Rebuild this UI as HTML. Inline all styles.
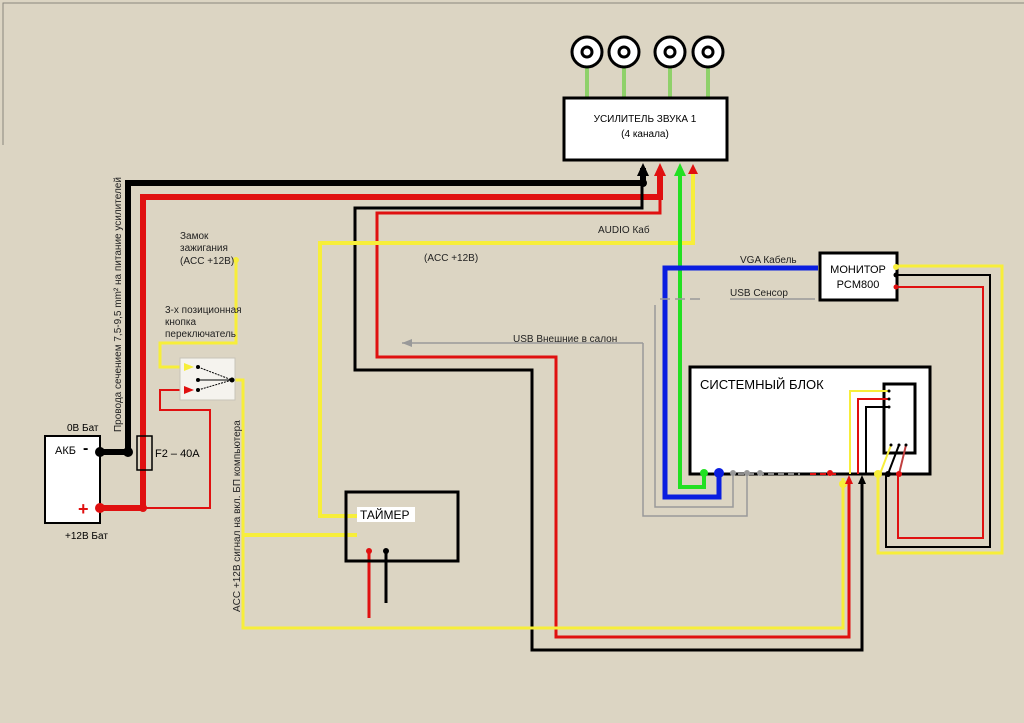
<!DOCTYPE html>
<html><head><meta charset="utf-8"><style>
body{margin:0;background:#dcd5c3;}
svg{display:block;font-family:"Liberation Sans","Noto Sans CJK SC",sans-serif;}
</style></head><body>
<svg width="1024" height="723" viewBox="0 0 1024 723" xmlns="http://www.w3.org/2000/svg">
<rect width="1024" height="723" fill="#dcd5c3"/>
<polyline points="3,145 3,3 1024,3" fill="none" stroke="#8a877e" stroke-width="1"/>
<g fill="none" stroke-linejoin="miter">
<!-- speakers green -->
<g stroke="#8fd16a" stroke-width="4"><line x1="587" y1="66" x2="587" y2="97"/><line x1="624" y1="66" x2="624" y2="97"/><line x1="670" y1="66" x2="670" y2="97"/><line x1="708" y1="66" x2="708" y2="97"/></g>
<!-- thick black/red power -->
<polyline points="128,452 128,183 643,183 643,168" stroke="#000" stroke-width="6"/>
<polyline points="143,508 143,197 660,197 660,170" stroke="#e01010" stroke-width="6"/>
<!-- black 2 -->
<polyline points="642,183 642,208 355,208 355,370 532,370 532,650 862,650 862,482" stroke="#000" stroke-width="3"/>
<polyline points="660,197 660,213 377,213 377,357 556,357 556,637 849,637 849,482" stroke="#e01010" stroke-width="3"/>
<!-- yellow ACC -->
<polyline points="693,170 693,243 320,243 320,516 358,516" stroke="#f7ee3a" stroke-width="4"/>
<polyline points="232,380 243,380 243,628 843,628 843,478" stroke="#f7ee3a" stroke-width="3"/>
<polyline points="243,535 357,535" stroke="#f7ee3a" stroke-width="4"/>
<polyline points="236,260 236,343 160,343 160,367 186,367" stroke="#f7ee3a" stroke-width="3"/>
<!-- red switch -->
<polyline points="186,390 160,390 160,410 210,410 210,508 143,508" stroke="#e01010" stroke-width="2"/>
<polyline points="100,508 143,508" stroke="#e01010" stroke-width="6"/>
<polyline points="100,452 128,452" stroke="#000" stroke-width="6"/>
<!-- green audio -->
<polyline points="680,170 680,487 704,487 704,472" stroke="#22e022" stroke-width="4"/>
<!-- blue VGA -->
<polyline points="818,268 665,268 665,497 719,497 719,472" stroke="#0a1ee0" stroke-width="5"/>
<!-- grey usb -->
<polyline points="815,299 730,299" stroke="#999" stroke-width="1.5"/>
<polyline points="700,299 655,299" stroke="#999" stroke-width="1.5" stroke-dasharray="10,5"/>
<polyline points="655,305 655,507 733,507 733,472" stroke="#999" stroke-width="1.5"/>
<polyline points="643,343 643,516 747,516 747,472" stroke="#999" stroke-width="1.5"/>
<polyline points="643,343 402,343" stroke="#999" stroke-width="1.5"/>
<polyline points="894,266 1002,266 1002,553 878,553 878,474" stroke="#f7ee3a" stroke-width="3"/>
<polyline points="894,275 990,275 990,547 886,547 886,474" stroke="#000" stroke-width="2"/>
<polyline points="894,287 983,287 983,538 898,538 898,474" stroke="#e01010" stroke-width="2"/>
<!-- timer pins -->
<line x1="369" y1="551" x2="369" y2="618" stroke="#e01010" stroke-width="3"/>
<line x1="386" y1="551" x2="386" y2="603" stroke="#000" stroke-width="3"/>
</g>
<polygon points="402,343 412,339 412,347" fill="#999"/>
<!-- boxes -->
<rect x="564" y="98" width="163" height="62" fill="#fff" stroke="#000" stroke-width="3"/>
<text x="645" y="122" font-size="10" text-anchor="middle">УСИЛИТЕЛЬ ЗВУКА 1</text>
<text x="645" y="137" font-size="10" text-anchor="middle">(4 канала)</text>
<g fill="#fff" stroke="#000" stroke-width="3">
<circle cx="587" cy="52" r="15"/><circle cx="624" cy="52" r="15"/><circle cx="670" cy="52" r="15"/><circle cx="708" cy="52" r="15"/>
<circle cx="587" cy="52" r="5"/><circle cx="624" cy="52" r="5"/><circle cx="670" cy="52" r="5"/><circle cx="708" cy="52" r="5"/>
</g>
<!-- amp arrows -->
<polygon points="643,163 637,176 649,176" fill="#000"/>
<polygon points="660,163 654,176 666,176" fill="#e01010"/>
<polygon points="680,163 674,176 686,176" fill="#22e022"/>
<polygon points="693,164 688,174 698,174" fill="#e01010"/>
<circle cx="643" cy="183" r="4" fill="#000"/>
<rect x="690" y="367" width="240" height="107" fill="#fff" stroke="#000" stroke-width="3"/>
<text x="700" y="389" font-size="13">СИСТЕМНЫЙ БЛОК</text>
<rect x="884" y="384" width="31" height="69" fill="#fff" stroke="#000" stroke-width="3"/>
<g fill="none" stroke-width="2">
<polyline points="889,391 850,391 850,474" stroke="#f7ee3a"/>
<polyline points="889,399 858,399 858,474" stroke="#e01010"/>
<polyline points="889,407 866,407 866,474" stroke="#000"/>
<line x1="891" y1="445" x2="880" y2="474" stroke="#f7ee3a"/>
<line x1="899" y1="445" x2="888" y2="474" stroke="#000"/>
<line x1="906" y1="445" x2="899" y2="474" stroke="#c04040"/>
</g>
<g fill="#000"><circle cx="889" cy="391" r="1.5"/><circle cx="889" cy="399" r="1.5"/><circle cx="889" cy="407" r="1.5"/><circle cx="891" cy="445" r="1.5"/><circle cx="899" cy="445" r="1.5"/><circle cx="906" cy="445" r="1.5"/></g>
<g fill="none" stroke-width="2" stroke-dasharray="6,4"><line x1="738" y1="474" x2="800" y2="474" stroke="#888"/><line x1="810" y1="474" x2="840" y2="474" stroke="#e01010"/></g>
<circle cx="704" cy="473" r="4" fill="#22e022"/><circle cx="719" cy="473" r="5" fill="#0a1ee0"/>
<circle cx="733" cy="473" r="3" fill="#999"/><circle cx="747" cy="473" r="3" fill="#999"/><circle cx="760" cy="473" r="3" fill="#999"/>
<circle cx="830" cy="473" r="3" fill="#e01010"/>
<circle cx="843" cy="484" r="4" fill="#f7ee3a"/><circle cx="878" cy="474" r="4" fill="#f7ee3a"/><circle cx="888" cy="474" r="3" fill="#000"/><circle cx="899" cy="474" r="3" fill="#e01010"/>
<polygon points="849,475 845,484 853,484" fill="#e01010"/><polygon points="862,475 858,484 866,484" fill="#000"/>
<rect x="820" y="253" width="77" height="47" fill="#fff" stroke="#000" stroke-width="3"/>
<text x="858" y="273" font-size="11" text-anchor="middle">МОНИТОР</text>
<text x="858" y="288" font-size="11" text-anchor="middle">PCM800</text>
<circle cx="896" cy="267" r="3" fill="#f7ee3a"/><circle cx="896" cy="275" r="2.5" fill="#000"/><circle cx="896" cy="287" r="2.5" fill="#e01010"/>
<rect x="346" y="492" width="112" height="69" fill="none" stroke="#000" stroke-width="3"/>
<rect x="357" y="507" width="58" height="15" fill="#fff"/>
<text x="360" y="519" font-size="12">ТАЙМЕР</text>
<circle cx="369" cy="551" r="3" fill="#e01010"/><circle cx="386" cy="551" r="3" fill="#000"/>
<!-- battery -->
<rect x="45" y="436" width="55" height="87" fill="#fff" stroke="#000" stroke-width="2"/>
<text x="55" y="454" font-size="11">АКБ</text>
<text x="83" y="453" font-size="16" font-weight="bold">-</text>
<text x="78" y="515" font-size="18" font-weight="bold" fill="#e01010">+</text>
<text x="67" y="431" font-size="10">0В Бат</text>
<text x="65" y="539" font-size="10">+12В Бат</text>
<circle cx="100" cy="452" r="5" fill="#000"/><circle cx="128" cy="452" r="5" fill="#000"/>
<circle cx="100" cy="508" r="5" fill="#e01010"/><circle cx="143" cy="508" r="4" fill="#e01010"/>
<rect x="137" y="436" width="15" height="34" fill="none" stroke="#000" stroke-width="1.5"/>
<text x="155" y="457" font-size="11">F2 – 40A</text>
<!-- switch -->
<rect x="180" y="358" width="55" height="42" fill="#f5f3ee" stroke="#c8c4b8"/>
<g stroke="#000" stroke-width="1"><line x1="198" y1="367" x2="232" y2="380" stroke-dasharray="2,1"/><line x1="198" y1="380" x2="232" y2="380"/><line x1="198" y1="390" x2="232" y2="380" stroke-dasharray="2,1"/></g>
<g fill="#000"><circle cx="198" cy="367" r="2"/><circle cx="198" cy="380" r="2"/><circle cx="198" cy="390" r="2"/><circle cx="232" cy="380" r="2.5"/></g>
<polygon points="194,367 184,363 184,371" fill="#f7ee3a"/>
<polygon points="194,390 184,386 184,394" fill="#e01010"/>
<circle cx="236" cy="260" r="3" fill="#f7ee3a"/>
<!-- labels -->
<g font-size="10" fill="#222">
<text x="180" y="239">Замок</text><text x="180" y="251">зажигания</text><text x="180" y="264">(ACC +12В)</text>
<text x="165" y="313">3-х позиционная</text><text x="165" y="325">кнопка</text><text x="165" y="337">переключатель</text>
<text x="598" y="233">AUDIO Каб</text>
<text x="424" y="261">(ACC +12В)</text>
<text x="740" y="263">VGA Кабель</text>
<text x="730" y="296">USB Сенсор</text>
<text x="513" y="342">USB Внешние в салон</text>
<text transform="translate(121,432) rotate(-90)">Провода сечением 7,5-9,5 mm² на питание усилителей</text>
<text transform="translate(240,612) rotate(-90)">ACC +12В сигнал на вкл. БП компьютера</text>
</g>
</svg>
</body></html>
